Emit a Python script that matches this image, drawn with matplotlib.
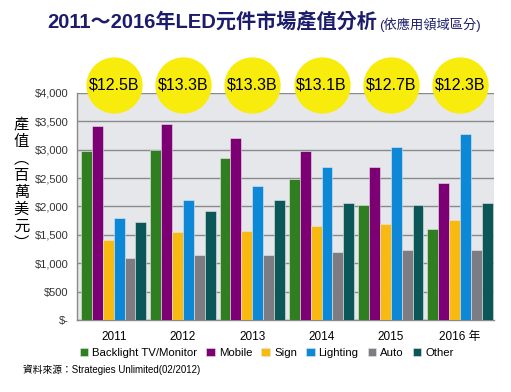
import matplotlib.pyplot as plt
import numpy as np

plt.rcParams['font.family'] = ['Liberation Sans', 'Noto Sans CJK TC']

years = ['2011', '2012', '2013', '2014', '2015', '2016 年']
totals = ['$12.5B', '$13.3B', '$13.3B', '$13.1B', '$12.7B', '$12.3B']

backlight = [2980, 3000, 2860, 2490, 2030, 1595]
mobile = [3425, 3460, 3215, 2985, 2700, 2415]
sign = [1405, 1545, 1575, 1655, 1695, 1755]
lighting = [1800, 2120, 2360, 2690, 3040, 3270]
auto = [1095, 1150, 1150, 1190, 1225, 1230]
other = [1725, 1915, 2110, 2065, 2030, 2060]

series = [backlight, mobile, sign, lighting, auto, other]
names = ['Backlight TV/Monitor', 'Mobile', 'Sign', 'Lighting', 'Auto', 'Other']
colors = ['#2f7e1f', '#7c0074', '#f8b910', '#0d88d6', '#7d7c82', '#0b5757']

fig = plt.figure(figsize=(5.11, 3.92), dpi=100)
ax = fig.add_axes([0.1507, 0.1837, 0.816, 0.5791])
ax.set_facecolor('#e6e7ea')

x = np.arange(len(years))
w = 0.157
for i, (vals, name, c) in enumerate(zip(series, names, colors)):
    ax.bar(x + (i - 2.5) * w, vals, w, color=c, label=name,
           edgecolor='#e6e7ea', linewidth=0.4, zorder=3)

ax.set_xlim(-0.53, 5.49)
ax.set_ylim(0, 4000)
ax.set_yticks(range(0, 4001, 500))
ax.set_yticklabels(['$-'] + ['${:,}'.format(v) for v in range(500, 4001, 500)],
                   fontsize=8, color='#333333')
ax.set_xticks(x)
ax.set_xticklabels(years, fontsize=8.5)
ax.tick_params(length=0, pad=6)
ax.tick_params(axis='x', pad=8)
ax.grid(axis='y', color='#8a8a8a', linewidth=1.0, zorder=1)
for s in ['top', 'right']:
    ax.spines[s].set_visible(False)
for s in ['left', 'bottom']:
    ax.spines[s].set_color('#8a8a8a')
    ax.spines[s].set_linewidth(1.0)

# yellow total bubbles
ax.scatter(x, [4140] * len(x), s=1560, color='#f8ec0c', clip_on=False, zorder=5)
for xi, t in zip(x, totals):
    ax.text(xi, 4140, t, ha='center', va='center', fontsize=11.5, zorder=6,
            clip_on=False)

fig.text(0.092, 0.943, '2011～2016年LED元件市場產值分析', ha='left', va='center',
         fontsize=14.5, fontweight='bold', color='#1c1c6c')
fig.text(0.742, 0.938, '(依應用領域區分)', ha='left', va='center',
         fontsize=9.5, color='#1c1c6c')

fig.text(0.042, 0.53, '產\n值\n︵\n百\n萬\n美\n元\n︶', ha='center', va='center',
         fontsize=11, linespacing=1.0, family=['Noto Sans CJK TC'])

ax.legend(loc='center', bbox_to_anchor=(0.455, -0.145), ncol=6, frameon=False,
          fontsize=8.2, handlelength=0.75, handleheight=0.75, handletextpad=0.35,
          columnspacing=0.8)

fig.text(0.045, 0.057, '資料來源：Strategies Unlimited(02/2012)', ha='left',
         va='center', fontsize=7)

fig.savefig('out.png', dpi=100)
